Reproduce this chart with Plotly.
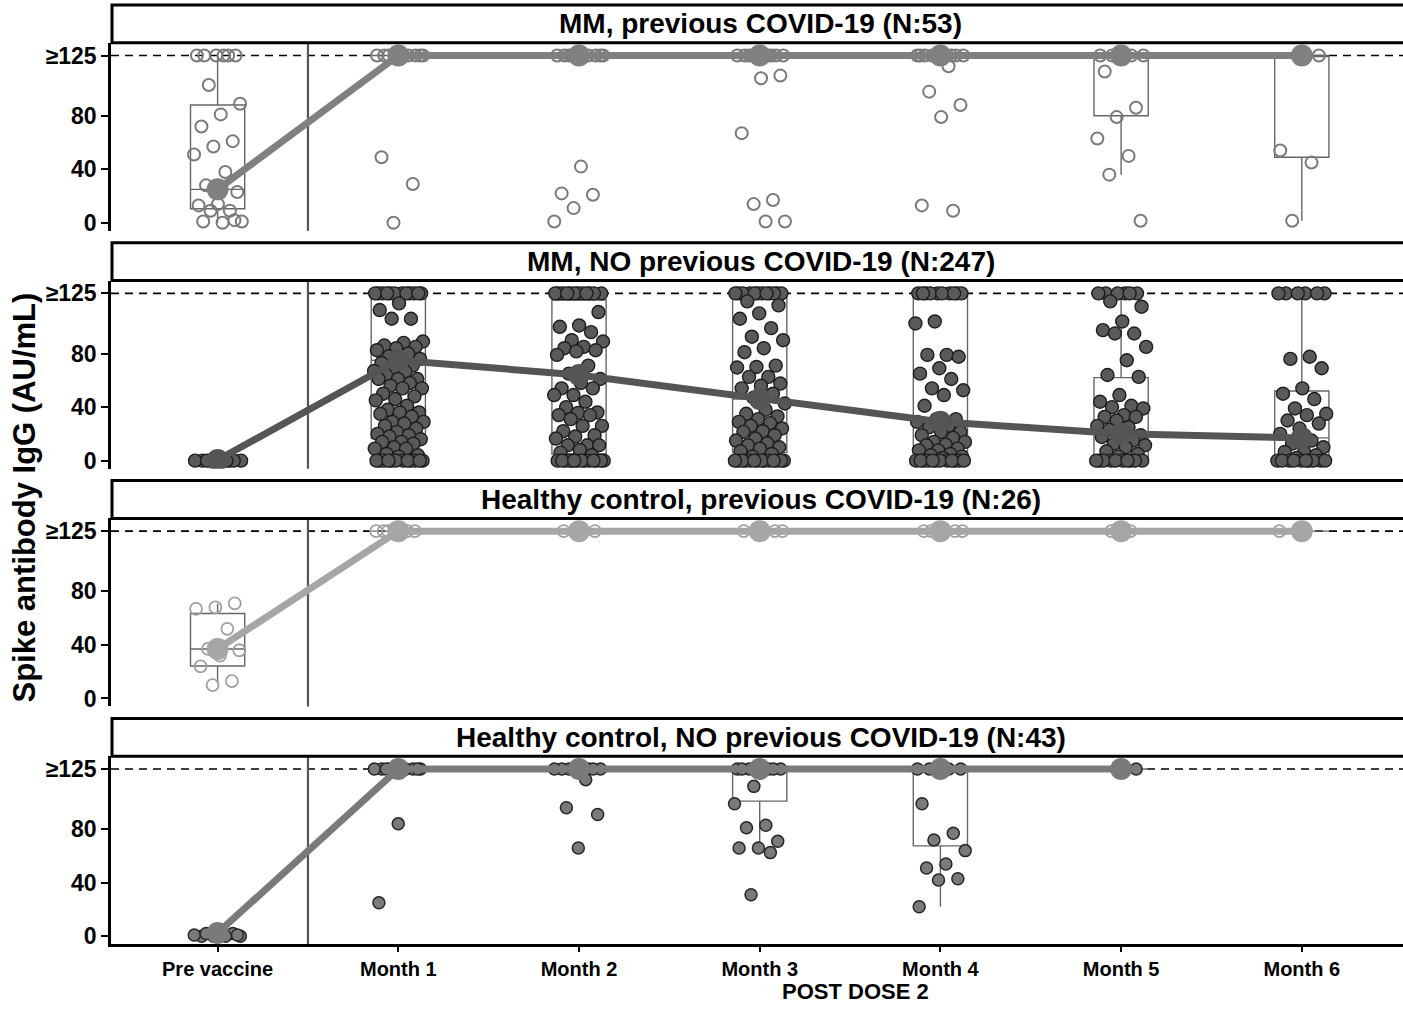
import plotly.graph_objects as go

W, H = 1403, 1011

timepoints = ["Pre vaccine", "Month 1", "Month 2", "Month 3", "Month 4", "Month 5", "Month 6"]

panel_titles = [
    "MM, previous COVID-19 (N:53)",
    "MM, NO previous COVID-19 (N:247)",
    "Healthy control, previous COVID-19 (N:26)",
    "Healthy control, NO previous COVID-19 (N:43)",
]

# ---- MM, previous COVID-19: per-patient spike IgG (values >=125 capped at 125)
mm_prev_values = [
    [125, 125, 125, 125, 125, 125, 103, 89, 81, 72, 61, 57, 51, 38, 28, 23, 14, 13, 9, 9, 1, 0, 1, 2],
    [125, 125, 125, 125, 125, 125, 125, 125, 125, 125, 49, 29, 0],
    [125, 125, 125, 125, 125, 125, 125, 125, 125, 125, 42, 22, 21, 11, 1],
    [125, 125, 125, 125, 125, 125, 125, 125, 125, 125, 110, 108, 67, 17, 14, 1, 1],
    [125, 125, 125, 125, 125, 125, 125, 125, 125, 117, 98, 88, 79, 13, 9],
    [125, 125, 125, 125, 125, 125, 113, 86, 79, 63, 50, 36, 1.5],
    [125, 125, 54, 45, 1.5],
]
mm_prev_q1 = [10.5, 125, 125, 125, 125, 80, 49]
mm_prev_median = [25, 125, 125, 125, 125, 125, 125]
mm_prev_q3 = [88, 125, 125, 125, 125, 125, 125]
mm_prev_low = [0, 125, 125, 125, 125, 36, 1.5]
mm_prev_high = [125, 125, 125, 125, 125, 125, 125]

# ---- MM, NO previous COVID-19
mm_naive_values = [
    [0, 0, 0, 0, 0, 0, 0, 0, 0, 0],
    [125, 125, 125, 125, 125, 125, 125, 125, 125, 125, 125, 125,
     117.5, 112.5, 106, 106, 89, 88, 86, 85, 84, 82.5, 80, 78, 76, 74, 73, 71, 69, 67, 66.6, 64,
     61, 61, 61, 58, 56, 54, 54, 50, 48, 46, 45, 41, 38, 36, 36, 35, 33, 29, 29, 27.7, 26, 24,
     21.5, 20, 19, 18, 16, 14, 14, 12.7, 10, 9, 9, 5, 4, 3,
     0, 0, 0, 0, 0, 0, 0, 0, 0, 0, 0, 0],
    [125, 125, 125, 125, 125, 125, 125, 125, 125, 125, 125, 125,
     111, 101, 100, 96, 90, 89, 85, 84, 82.5, 81.6, 79, 71, 65, 61, 58, 54, 54, 49, 49, 44, 40,
     36, 35.7, 34, 34, 31, 26, 26, 22, 19, 18, 16.5, 11.5, 11.5, 11.5, 8, 6, 4,
     0, 0, 0, 0, 0, 0, 0, 0, 0, 0, 0, 0, 0, 0],
    [125, 125, 125, 125, 125, 125, 125, 125, 125, 125, 125, 125,
     119, 116, 110, 106, 99, 92.6, 90, 84, 81, 71, 70, 69.6, 62.6, 62.6, 57.6, 56, 54, 50, 47,
     42.7, 38, 35, 33, 31, 29, 28, 26, 24, 22, 21.5, 19, 16.5, 15, 13, 11.5, 10, 9, 7, 5, 3,
     0, 0, 0, 0, 0, 0, 0, 0, 0, 0, 0, 0, 0, 0],
    [125, 125, 125, 125, 125, 125, 125, 125, 125, 125,
     104, 102.5, 79, 79, 77.6, 69, 65, 61, 54, 52.6, 49, 41, 31, 31, 29, 26, 25, 21.5, 21.5,
     19, 17, 14, 14, 12, 11.5, 9, 7.7, 7.7, 5, 4, 3, 2,
     0, 0, 0, 0, 0, 0, 0, 0, 0, 0, 0, 0],
    [125, 125, 125, 125, 125, 125,
     119, 115, 104, 97.5, 95, 95, 85, 75, 64, 62.6, 49, 44, 41, 40, 39, 34, 32.7, 32.7, 30,
     26, 25, 23, 19, 19, 17.7, 15, 12.7, 11.5, 10, 7, 5, 3,
     0, 0, 0, 0, 0, 0, 0, 0, 0, 0],
    [125, 125, 125, 125, 125, 125,
     77.6, 76, 69, 54, 50, 46, 39, 35, 34, 30, 27.7, 24, 20, 15, 12.7, 10, 6.5, 6.5, 4, 2,
     0, 0, 0, 0, 0, 0, 0, 0, 0, 0],
]
mm_naive_q1 = [0, 16.5, 5, 6, 7, 1, 2]
mm_naive_median = [0.5, 75, 64, 46, 29, 20, 17]
mm_naive_q3 = [1, 121, 120, 122, 124, 62, 52]
mm_naive_low = [0, 0, 0, 0, 0, 0, 0]
mm_naive_high = [1, 125, 125, 125, 125, 125, 125]

# ---- Healthy control, previous COVID-19
hc_prev_values = [
    [71, 68, 67, 52, 37, 36, 32, 24, 13, 10],
    [125, 125, 125, 125, 125, 125],
    [125, 125, 125, 125],
    [125, 125, 125, 125, 125],
    [125, 125, 125, 125, 125],
    [125, 125],
    [125],
]
hc_prev_q1 = [24.3, 125, 125, 125, 125, 125, 125]
hc_prev_median = [37, 125, 125, 125, 125, 125, 125]
hc_prev_q3 = [63.5, 125, 125, 125, 125, 125, 125]
hc_prev_low = [11, 125, 125, 125, 125, 125, 125]
hc_prev_high = [71, 125, 125, 125, 125, 125, 125]

# ---- Healthy control, NO previous COVID-19 (no Month 6 samples)
hc_naive_values = [
    [0, 1, 0, 2, 0, 1, 0, 2, 1, 0],
    [125, 125, 125, 125, 125, 125, 125, 125, 125, 125, 84, 25],
    [125, 125, 125, 125, 125, 125, 125, 125, 117, 96, 91, 66],
    [125, 125, 125, 125, 125, 125, 125, 112, 99, 83, 81, 71, 66, 66, 62.5, 31],
    [125, 125, 125, 125, 125, 125, 99, 77, 72, 64, 54, 51, 43, 42, 22],
    [125],
]
hc_naive_q1 = [0, 125, 125, 101, 67.5, 125]
hc_naive_median = [2.5, 125, 125, 125, 125, 125]
hc_naive_q3 = [3, 125, 125, 125, 125, 125]
hc_naive_low = [0, 125, 125, 62, 22, 125]
hc_naive_high = [3, 125, 125, 125, 125, 125]

y_tickvals = [0, 40, 80, 125]
y_ticktext = ["0", "40", "80", "≥125"]

panels = [
    dict(values=mm_prev_values, q1=mm_prev_q1, med=mm_prev_median, q3=mm_prev_q3,
         lo=mm_prev_low, hi=mm_prev_high,
         marker=dict(symbol="circle-open", size=12, color="#7a7a7a", line=dict(width=2, color="#7a7a7a")),
         line_color="#808080"),
    dict(values=mm_naive_values, q1=mm_naive_q1, med=mm_naive_median, q3=mm_naive_q3,
         lo=mm_naive_low, hi=mm_naive_high,
         marker=dict(symbol="circle", size=13, color="#5a5a5a", line=dict(width=1.4, color="#1e1e1e")),
         line_color="#555555"),
    dict(values=hc_prev_values, q1=hc_prev_q1, med=hc_prev_median, q3=hc_prev_q3,
         lo=hc_prev_low, hi=hc_prev_high,
         marker=dict(symbol="circle-open", size=12, color="#a0a0a0", line=dict(width=1.8, color="#a0a0a0")),
         line_color="#a6a6a6"),
    dict(values=hc_naive_values, q1=hc_naive_q1, med=hc_naive_median, q3=hc_naive_q3,
         lo=hc_naive_low, hi=hc_naive_high,
         marker=dict(symbol="circle", size=12, color="#7a7a7a", line=dict(width=1.5, color="#262626")),
         line_color="#7a7a7a"),
]

# pixel layout of the facet stack
plot_left = 111
panel_tops = [43, 282, 521, 760]
panel_h = 189
strip_h = 38
x_range = [-0.59, 6.56]
y_range = [-6, 134.5]

FONT = "Liberation Sans, Arial, sans-serif"


def jitter(n, seed):
    # deterministic horizontal spread of points within a time point
    return [(((k + 1) * 0.6180339887 + seed) % 1.0 - 0.5) * 0.28 for k in range(n)]


fig = go.Figure()
shapes = []
annotations = []
layout_axes = {}

for p, panel in enumerate(panels):
    idx = p + 1
    xa = "x" if idx == 1 else f"x{idx}"
    ya = "y" if idx == 1 else f"y{idx}"
    n_tp = len(panel["values"])
    xs = list(range(n_tp))

    # box summaries
    fig.add_trace(go.Box(
        x=xs, q1=panel["q1"], median=panel["med"], q3=panel["q3"],
        lowerfence=panel["lo"], upperfence=panel["hi"],
        width=0.3, whiskerwidth=0, boxpoints=False,
        line=dict(color="#666666", width=1.4), fillcolor="rgba(0,0,0,0)",
        xaxis=xa, yaxis=ya, showlegend=False, hoverinfo="skip",
    ))

    # individual patients
    px, py = [], []
    for t, vals in enumerate(panel["values"]):
        offs = jitter(len(vals), 0.37 * t + 0.11 * p)
        px.extend(t + o for o in offs)
        py.extend(vals)
    fig.add_trace(go.Scatter(
        x=px, y=py, mode="markers", marker=panel["marker"],
        xaxis=xa, yaxis=ya, showlegend=False, hoverinfo="skip",
    ))

    # median trajectory
    fig.add_trace(go.Scatter(
        x=xs, y=panel["med"], mode="lines+markers",
        line=dict(color=panel["line_color"], width=7),
        marker=dict(size=22, color=panel["line_color"]),
        xaxis=xa, yaxis=ya, showlegend=False, hoverinfo="skip",
    ))

    top = panel_tops[p]
    dom = [1 - (top + panel_h) / H, 1 - top / H]
    bottom_panel = p == len(panels) - 1

    layout_axes["xaxis" if idx == 1 else f"xaxis{idx}"] = dict(
        domain=[plot_left / W, 1], range=x_range, anchor=ya,
        visible=bottom_panel,
        tickmode="array", tickvals=list(range(len(timepoints))), ticktext=timepoints,
        showline=True, linecolor="black", linewidth=3,
        ticks="outside", ticklen=5, tickwidth=2, tickcolor="black",
        tickfont=dict(family=FONT, size=20, color="black", weight="bold"),
        showgrid=False, zeroline=False, fixedrange=True,
    )
    layout_axes["yaxis" if idx == 1 else f"yaxis{idx}"] = dict(
        domain=dom, range=y_range, anchor=xa,
        tickmode="array", tickvals=y_tickvals, ticktext=y_ticktext,
        showline=True, linecolor="black", linewidth=2.5,
        ticks="outside", ticklen=7, tickwidth=2.2, tickcolor="black",
        tickfont=dict(family=FONT, size=23, color="black", weight="bold"),
        showgrid=False, zeroline=False, fixedrange=True,
    )

    # saturation threshold
    shapes.append(dict(type="line", xref=f"{xa} domain", yref=ya, x0=0, x1=1, y0=125, y1=125,
                       line=dict(color="black", width=1.6, dash="8px,6px"), layer="below"))
    # separator between baseline and post-dose time points
    shapes.append(dict(type="line", xref=xa, yref=f"{ya} domain", x0=0.5, x1=0.5, y0=0, y1=1,
                       line=dict(color="#555555", width=2.2), layer="below"))
    # facet strip
    shapes.append(dict(type="rect", xref="paper", yref="paper",
                       x0=(plot_left + 1) / W, x1=1.01,
                       y0=1 - top / H, y1=1 - (top - strip_h) / H,
                       line=dict(color="black", width=3), fillcolor="white", layer="above"))
    annotations.append(dict(
        text=panel_titles[p], xref="paper", yref="paper",
        x=761 / W, y=1 - (top - strip_h / 2) / H, xanchor="center", yanchor="middle",
        showarrow=False, font=dict(family=FONT, size=28, color="black", weight="bold"),
    ))

annotations.append(dict(
    text="Spike antibody IgG (AU/mL)", xref="paper", yref="paper",
    x=25 / W, y=1 - 500 / H, xanchor="center", yanchor="middle", textangle=-90,
    showarrow=False, font=dict(family=FONT, size=31, color="black", weight="bold"),
))
annotations.append(dict(
    text="POST DOSE 2", xref="paper", yref="paper",
    x=855 / W, y=1 - 996 / H, xanchor="center", yanchor="middle",
    showarrow=False, font=dict(family=FONT, size=22, color="black", weight="bold"),
))

fig.update_layout(
    width=W, height=H,
    margin=dict(l=0, r=0, t=0, b=0),
    paper_bgcolor="white", plot_bgcolor="white",
    showlegend=False,
    shapes=shapes, annotations=annotations,
    **layout_axes,
)

fig.write_html("out.html")
